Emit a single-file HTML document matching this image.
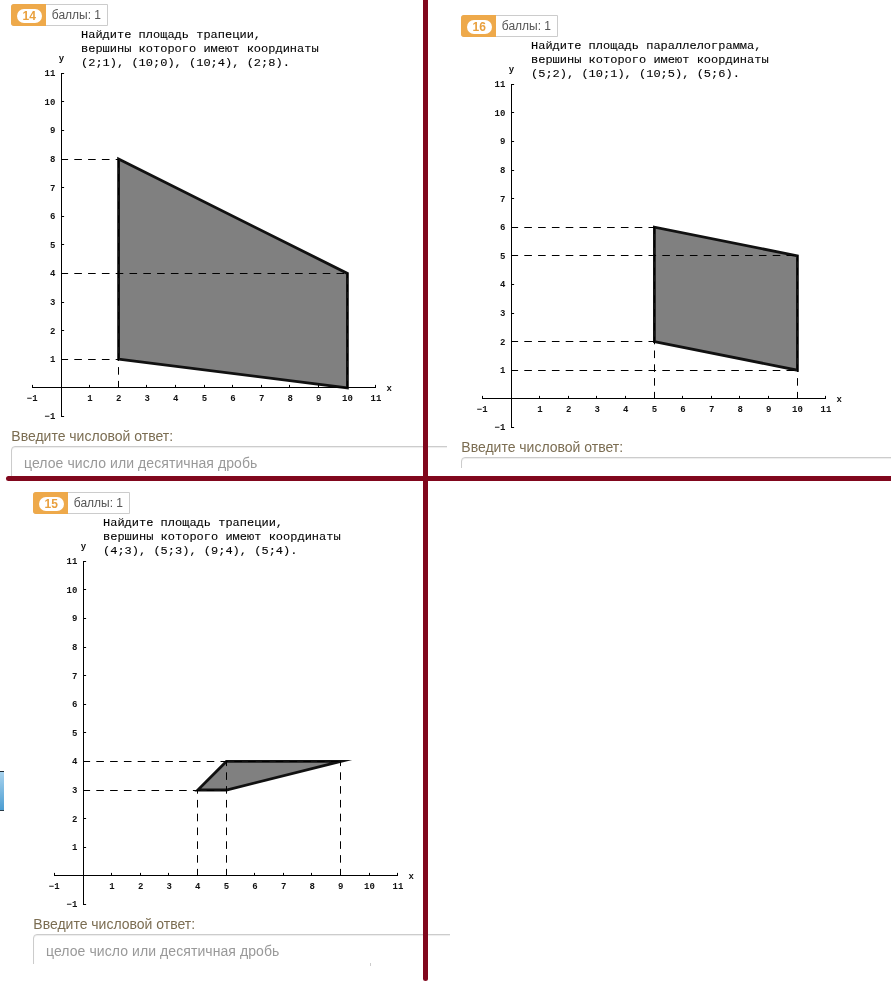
<!DOCTYPE html>
<html lang="ru"><head><meta charset="utf-8"><title>Задачи 14-16</title>
<style>
html,body{margin:0;padding:0;background:#fff;}
body{width:891px;height:982px;position:relative;overflow:hidden;font-family:"Liberation Sans",Arial,sans-serif;}
.panel{position:absolute;overflow:hidden;background:#fff;}
.p1{left:0;top:0;width:447px;height:477px;}
.p2{left:448px;top:0;width:443px;height:468px;}
.p3{left:0;top:480px;width:450px;height:484px;}
.in{position:absolute;width:900px;height:520px;}
.badge{position:absolute;left:11px;top:4px;width:97px;height:22px;box-sizing:border-box;border:1px solid #ccc;border-radius:3px 0 0 3px;background:#fff;}
.bn{position:absolute;left:-1px;top:-1px;width:35px;height:22px;background:#eea94a;border-radius:3px 0 0 3px;}
.pill{position:absolute;left:6px;top:4.5px;width:24.5px;height:14px;border-radius:7px;background:#fff;color:#e9a03e;font-weight:bold;font-size:12px;line-height:14.6px;text-align:center;}
.bt{position:absolute;left:39.8px;top:0;line-height:20px;font-size:12px;color:#555;white-space:nowrap;}
.q{position:absolute;left:81px;top:28.6px;margin:0;transform:scaleY(0.9);transform-origin:0 0;font-family:"Liberation Mono","Courier New",monospace;font-size:12px;line-height:15.55px;color:#000;-webkit-text-stroke:0.1px #000;white-space:pre;}
.g{position:absolute;left:0;top:0;}
.tl text{font-family:"Liberation Mono","Courier New",monospace;font-weight:bold;font-size:9px;fill:#111;}
.lbl{position:absolute;left:11.3px;top:428px;font-size:14px;line-height:16px;color:#7b6d52;white-space:nowrap;}
.inp{position:absolute;left:11px;top:446px;width:900px;height:34px;box-sizing:border-box;border:1px solid #ccc;border-radius:4px;box-shadow:inset 0 1px 1px rgba(0,0,0,.075);}
.inp span{position:absolute;left:12px;top:0;line-height:33px;font-size:14px;letter-spacing:0.08px;color:#999;white-space:nowrap;}
.p2 .inp span{top:2px;}
.vline{position:absolute;left:423px;top:-5px;width:5px;height:986px;background:#81071d;border-radius:2.5px;}
.hline{position:absolute;left:6px;top:476px;width:900px;height:5px;background:#81071d;border-radius:2.5px;}
.blue{position:absolute;left:0;top:771px;width:4px;height:38px;border-top:1px solid #1f2a33;border-bottom:1px solid #2a3c4a;background:linear-gradient(#a9d3ee,#4b9dd2);}
.dot{position:absolute;left:370px;top:963px;width:1px;height:3px;background:#ccc;}
</style></head><body>
<div class="panel p1"><div class="in" style="left:0px;top:0px">
<div class="badge"><span class="bn"><span class="pill">14</span></span><span class="bt">баллы: 1</span></div>
<pre class="q">Найдите площадь трапеции,
вершины которого имеют координаты
(2;1), (10;0), (10;4), (2;8).</pre>
<svg class="g" width="447" height="430" viewBox="0 0 447 430">
<polygon points="118.6,359.2 347.4,387.8 347.4,273.4 118.6,159" fill="#808080" stroke="#111" stroke-width="2.8" stroke-linejoin="miter" stroke-miterlimit="20"/>
<g stroke="#000" stroke-width="1" fill="none">
<path d="M32 387.5H376"/>
<path d="M61.5 73V417"/>
<path d="M32.5 387.5v-2.6M61.5 416.5h2.6M61.5 387.5v-2.6M61.5 387.5h2.6M89.5 387.5v-2.6M61.5 359.5h2.6M118.5 387.5v-2.6M61.5 330.5h2.6M146.5 387.5v-2.6M61.5 302.5h2.6M175.5 387.5v-2.6M61.5 273.5h2.6M204.5 387.5v-2.6M61.5 244.5h2.6M232.5 387.5v-2.6M61.5 216.5h2.6M261.5 387.5v-2.6M61.5 187.5h2.6M289.5 387.5v-2.6M61.5 159.5h2.6M318.5 387.5v-2.6M61.5 130.5h2.6M347.5 387.5v-2.6M61.5 101.5h2.6M375.5 387.5v-2.6M61.5 73.5h2.6"/>
</g>
<g stroke="#000" stroke-width="1" fill="none" stroke-dasharray="7.6 6.2" stroke-dashoffset="1">
<path d="M118.5 387.5V159"/>
<path d="M61.5 359.5H118.6"/>
<path d="M347.5 387.5V273.4"/>
<path d="M61.5 273.5H347.4"/>
<path d="M61.5 159.5H118.6"/>
</g>
<g class="tl" text-anchor="middle">
<text x="32.2" y="401">−1</text>
<text x="90" y="401">1</text>
<text x="118.6" y="401">2</text>
<text x="147.2" y="401">3</text>
<text x="175.8" y="401">4</text>
<text x="204.4" y="401">5</text>
<text x="233" y="401">6</text>
<text x="261.6" y="401">7</text>
<text x="290.2" y="401">8</text>
<text x="318.8" y="401">9</text>
<text x="347.4" y="401">10</text>
<text x="376" y="401">11</text>
<text x="389.2" y="391">x</text>
<text x="61.4" y="61.2">y</text>
</g>
<g class="tl" text-anchor="end">
<text x="55.4" y="419.4">−1</text>
<text x="55.4" y="362.2">1</text>
<text x="55.4" y="333.6">2</text>
<text x="55.4" y="305">3</text>
<text x="55.4" y="276.4">4</text>
<text x="55.4" y="247.8">5</text>
<text x="55.4" y="219.2">6</text>
<text x="55.4" y="190.6">7</text>
<text x="55.4" y="162">8</text>
<text x="55.4" y="133.4">9</text>
<text x="55.4" y="104.8">10</text>
<text x="55.4" y="76.2">11</text>
</g>
</svg>
<div class="lbl">Введите числовой ответ:</div>
<div class="inp"><span>целое число или десятичная дробь</span></div>
</div></div>
<div class="panel p2"><div class="in" style="left:2px;top:11px">
<div class="badge"><span class="bn"><span class="pill">16</span></span><span class="bt">баллы: 1</span></div>
<pre class="q">Найдите площадь параллелограмма,
вершины которого имеют координаты
(5;2), (10;1), (10;5), (5;6).</pre>
<svg class="g" width="447" height="430" viewBox="0 0 447 430">
<polygon points="204.4,330.6 347.4,359.2 347.4,244.8 204.4,216.2" fill="#808080" stroke="#111" stroke-width="2.8" stroke-linejoin="miter" stroke-miterlimit="20"/>
<g stroke="#000" stroke-width="1" fill="none">
<path d="M32 387.5H376"/>
<path d="M61.5 73V417"/>
<path d="M32.5 387.5v-2.6M61.5 416.5h2.6M61.5 387.5v-2.6M61.5 387.5h2.6M89.5 387.5v-2.6M61.5 359.5h2.6M118.5 387.5v-2.6M61.5 330.5h2.6M146.5 387.5v-2.6M61.5 302.5h2.6M175.5 387.5v-2.6M61.5 273.5h2.6M204.5 387.5v-2.6M61.5 244.5h2.6M232.5 387.5v-2.6M61.5 216.5h2.6M261.5 387.5v-2.6M61.5 187.5h2.6M289.5 387.5v-2.6M61.5 159.5h2.6M318.5 387.5v-2.6M61.5 130.5h2.6M347.5 387.5v-2.6M61.5 101.5h2.6M375.5 387.5v-2.6M61.5 73.5h2.6"/>
</g>
<g stroke="#000" stroke-width="1" fill="none" stroke-dasharray="7.6 6.2" stroke-dashoffset="1">
<path d="M204.5 387.5V216.2"/>
<path d="M61.5 330.5H204.4"/>
<path d="M347.5 387.5V244.8"/>
<path d="M61.5 359.5H347.4"/>
<path d="M61.5 244.5H347.4"/>
<path d="M61.5 216.5H204.4"/>
</g>
<g class="tl" text-anchor="middle">
<text x="32.2" y="401">−1</text>
<text x="90" y="401">1</text>
<text x="118.6" y="401">2</text>
<text x="147.2" y="401">3</text>
<text x="175.8" y="401">4</text>
<text x="204.4" y="401">5</text>
<text x="233" y="401">6</text>
<text x="261.6" y="401">7</text>
<text x="290.2" y="401">8</text>
<text x="318.8" y="401">9</text>
<text x="347.4" y="401">10</text>
<text x="376" y="401">11</text>
<text x="389.2" y="391">x</text>
<text x="61.4" y="61.2">y</text>
</g>
<g class="tl" text-anchor="end">
<text x="55.4" y="419.4">−1</text>
<text x="55.4" y="362.2">1</text>
<text x="55.4" y="333.6">2</text>
<text x="55.4" y="305">3</text>
<text x="55.4" y="276.4">4</text>
<text x="55.4" y="247.8">5</text>
<text x="55.4" y="219.2">6</text>
<text x="55.4" y="190.6">7</text>
<text x="55.4" y="162">8</text>
<text x="55.4" y="133.4">9</text>
<text x="55.4" y="104.8">10</text>
<text x="55.4" y="76.2">11</text>
</g>
</svg>
<div class="lbl">Введите числовой ответ:</div>
<div class="inp"><span>целое число или десятичная дробь</span></div>
</div></div>
<div class="panel p3"><div class="in" style="left:22px;top:8px">
<div class="badge"><span class="bn"><span class="pill">15</span></span><span class="bt">баллы: 1</span></div>
<pre class="q">Найдите площадь трапеции,
вершины которого имеют координаты
(4;3), (5;3), (9;4), (5;4).</pre>
<svg class="g" width="447" height="430" viewBox="0 0 447 430">
<polygon points="175.8,302 204.4,302 318.8,273.4 204.4,273.4" fill="#808080" stroke="#111" stroke-width="2.8" stroke-linejoin="miter" stroke-miterlimit="20"/>
<g stroke="#000" stroke-width="1" fill="none">
<path d="M32 387.5H376"/>
<path d="M61.5 73V417"/>
<path d="M32.5 387.5v-2.6M61.5 416.5h2.6M61.5 387.5v-2.6M61.5 387.5h2.6M89.5 387.5v-2.6M61.5 359.5h2.6M118.5 387.5v-2.6M61.5 330.5h2.6M146.5 387.5v-2.6M61.5 302.5h2.6M175.5 387.5v-2.6M61.5 273.5h2.6M204.5 387.5v-2.6M61.5 244.5h2.6M232.5 387.5v-2.6M61.5 216.5h2.6M261.5 387.5v-2.6M61.5 187.5h2.6M289.5 387.5v-2.6M61.5 159.5h2.6M318.5 387.5v-2.6M61.5 130.5h2.6M347.5 387.5v-2.6M61.5 101.5h2.6M375.5 387.5v-2.6M61.5 73.5h2.6"/>
</g>
<g stroke="#000" stroke-width="1" fill="none" stroke-dasharray="7.6 6.2" stroke-dashoffset="1">
<path d="M175.5 387.5V302"/>
<path d="M61.5 302.5H204.4"/>
<path d="M204.5 387.5V273.4"/>
<path d="M318.5 387.5V273.4"/>
<path d="M61.5 273.5H318.8"/>
</g>
<g class="tl" text-anchor="middle">
<text x="32.2" y="401">−1</text>
<text x="90" y="401">1</text>
<text x="118.6" y="401">2</text>
<text x="147.2" y="401">3</text>
<text x="175.8" y="401">4</text>
<text x="204.4" y="401">5</text>
<text x="233" y="401">6</text>
<text x="261.6" y="401">7</text>
<text x="290.2" y="401">8</text>
<text x="318.8" y="401">9</text>
<text x="347.4" y="401">10</text>
<text x="376" y="401">11</text>
<text x="389.2" y="391">x</text>
<text x="61.4" y="61.2">y</text>
</g>
<g class="tl" text-anchor="end">
<text x="55.4" y="419.4">−1</text>
<text x="55.4" y="362.2">1</text>
<text x="55.4" y="333.6">2</text>
<text x="55.4" y="305">3</text>
<text x="55.4" y="276.4">4</text>
<text x="55.4" y="247.8">5</text>
<text x="55.4" y="219.2">6</text>
<text x="55.4" y="190.6">7</text>
<text x="55.4" y="162">8</text>
<text x="55.4" y="133.4">9</text>
<text x="55.4" y="104.8">10</text>
<text x="55.4" y="76.2">11</text>
</g>
</svg>
<div class="lbl">Введите числовой ответ:</div>
<div class="inp"><span>целое число или десятичная дробь</span></div>
</div></div>
<div class="blue"></div>
<div class="dot"></div>
<div class="hline"></div>
<div class="vline"></div>
</body></html>
